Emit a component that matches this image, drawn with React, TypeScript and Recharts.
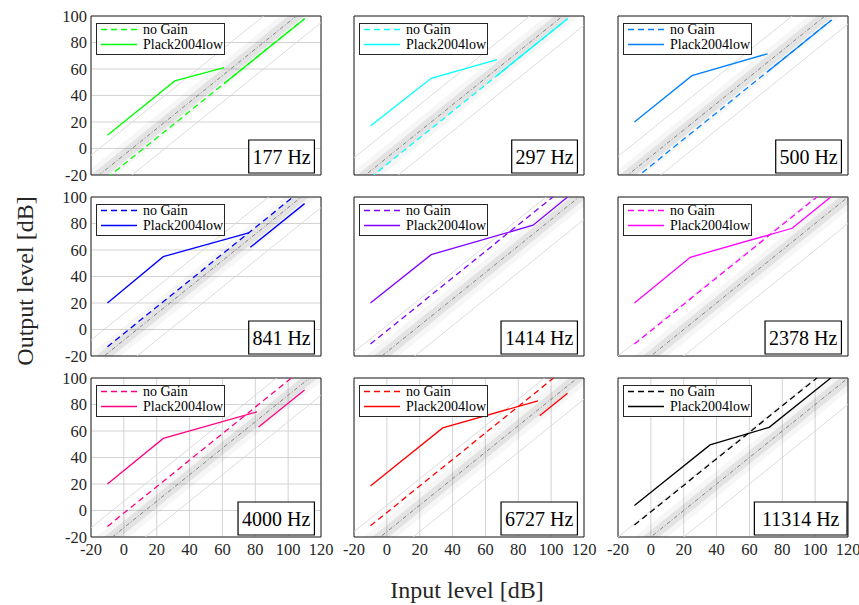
import React from 'react';
import {
  ComposedChart,
  Line,
  Area,
  XAxis,
  YAxis,
  CartesianGrid,
  ReferenceArea,
  Legend,
  Label,
} from 'recharts';

const FONT = '"Liberation Serif", "Times New Roman", serif';

// ---------- data ----------
const freqLabels = ['177 Hz', '297 Hz', '500 Hz', '841 Hz', '1414 Hz', '2378 Hz', '4000 Hz', '6727 Hz', '11314 Hz'];
const lineColors = ['#00ff00', '#00ffff', '#0080ff', '#0000ff', '#8000ff', '#ff00ff', '#ff0080', '#ff0000', '#000000'];
const xTicks = [-20, 0, 20, 40, 60, 80, 100, 120];
const yTicks = [-20, 0, 20, 40, 60, 80, 100];
const seriesNames = ['no Gain', 'Plack2004low'];

// offset (dB) of the grey reference line (output = input + offset)
const centerOffsets = [-5, -7, -6, -8, -17, -20, -13, -16, -20];

// "no Gain" line end points
const noGainX = [-10, 110];
const noGainY = [
  [-22, 98],
  [-22, 98],
  [-23, 97],
  [-13, 107],
  [-11, 109],
  [-11, 109],
  [-12, 108],
  [-11.5, 108.5],
  [-11, 109],
];

// "Plack2004low" curves (null = gap)
const plackX = [
  [-10, 31, 61, 61, 61, 110],
  [-10, 27, 67, 67, 67, 110],
  [-10, 25, 71, 71, 71, 110],
  [-10, 24, 76, 77, 77, 110],
  [-10, 27, 89, 110],
  [-10, 24, 86, 110],
  [-10, 24, 81, 82, 82, 110],
  [-10, 34, 92, 93, 93, 110],
  [-10, 36, 72, 110],
];
const plackY: (number | null)[][] = [
  [10, 51, 61, null, 49, 98],
  [17, 53, 67, null, 55, 98],
  [20, 55, 71.5, null, 58, 97],
  [20, 55, 73, null, 62, 95],
  [20, 56.5, 78.7, 100],
  [20, 54.5, 76.4, 100.5],
  [20, 54.4, 74.4, null, 63, 91],
  [18.5, 62.3, 82.8, null, 71.5, 88.5],
  [3.8, 49.5, 62.8, 100.5],
];

// frequency label boxes (data coords)
const labelLeft = [76, 76, 76, 76, 69.5, 69.5, 69.5, 69.5, 63];
const labelRight = [116, 116, 116, 116, 116, 116, 116, 116, 119.4];
const labelBottom = -18.5;
const labelTop = 6.4;

// ---------- layout ----------
const PLOT_LEFT = [91, 354, 618];
const PLOT_TOP = [16, 197, 378];
const PW = 230;
const PH = 159;
const YW = 40;
const MT = 10;
const MR = 22;
const XH = 30;

const LegendBox = (props: any) => {
  const all = (props.payload || []) as any[];
  const payload = seriesNames
    .map((n) => all.find((e: any) => e.value === n))
    .filter(Boolean) as any[];
  return (
    <div
      style={{
        border: '1px solid #262626',
        background: '#fff',
        padding: '0 1px 0 4px',
        height: 30,
        fontFamily: FONT,
        fontSize: 14,
        color: '#000',
        whiteSpace: 'nowrap',
        boxSizing: 'content-box',
      }}
    >
      <div style={{ transform: 'translateY(-1.5px)' }}>
        {payload.map((entry: any) => (
          <div
            key={String(entry.value)}
            style={{ display: 'flex', alignItems: 'center', height: 14.5, lineHeight: '14.5px' }}
          >
            <svg width={36} height={10} style={{ marginRight: 6, flex: 'none' }}>
              <line
                x1={0}
                x2={36}
                y1={5}
                y2={5}
                stroke={entry.color}
                strokeWidth={1.3}
                strokeDasharray={entry.value === 'no Gain' ? '6 4' : undefined}
              />
            </svg>
            <span>{entry.value}</span>
          </div>
        ))}
      </div>
    </div>
  );
};

function Panel({ i }: { i: number }) {
  const col = i % 3;
  const row = Math.floor(i / 3);
  const showY = col === 0;
  const showX = row === 2;
  const c0 = centerOffsets[i];
  const color = lineColors[i];

  const guide = [-20, 120].map((x) => ({
    x,
    center: x + c0,
    up20: x + c0 + 20,
    dn20: x + c0 - 20,
    light: [x + c0 - 10, x + c0 + 10],
    dark: [x + c0 - 5, x + c0 + 5],
  }));
  const noGain = noGainX.map((x, k) => ({ x, y: noGainY[i][k] }));
  const plack = plackX[i].map((x, k) => ({ x, y: plackY[i][k] }));

  const tickStyle = { fill: '#262626', fontSize: 16.5, fontFamily: FONT };

  return (
    <div style={{ position: 'absolute', left: PLOT_LEFT[col] - YW, top: PLOT_TOP[row] - MT }}>
      <ComposedChart
        width={PW + YW + MR}
        height={PH + MT + XH}
        data={guide}
        margin={{ top: MT, right: MR, left: 0, bottom: 0 }}
      >
        <CartesianGrid stroke="#d3d3d3" strokeWidth={1} />
        <XAxis
          type="number"
          dataKey="x"
          domain={[-20, 120]}
          ticks={xTicks}
          allowDataOverflow
          interval={0}
          tick={showX ? tickStyle : false}
          tickLine={false}
          axisLine={false}
          height={XH}
          tickSize={4}
          tickMargin={2}
        />
        <YAxis
          type="number"
          domain={[-20, 100]}
          ticks={yTicks}
          allowDataOverflow
          interval={0}
          tick={showY ? tickStyle : false}
          tickLine={false}
          axisLine={false}
          width={YW}
          tickSize={2}
          tickMargin={2}
        />
        <Area
          dataKey="light"
          name="band10"
          stroke="none"
          fill="#000"
          fillOpacity={0.035}
          isAnimationActive={false}
          legendType="none"
          activeDot={false}
        />
        <Area
          dataKey="dark"
          name="band5"
          stroke="none"
          fill="#000"
          fillOpacity={0.075}
          isAnimationActive={false}
          legendType="none"
          activeDot={false}
        />
        <Line dataKey="up20" stroke="#d8d8d8" strokeWidth={0.9} dot={false} isAnimationActive={false} legendType="none" />
        <Line dataKey="dn20" stroke="#d8d8d8" strokeWidth={0.9} dot={false} isAnimationActive={false} legendType="none" />
        <Line
          dataKey="center"
          stroke="#7a7a7a"
          strokeWidth={0.9}
          strokeDasharray="4 2 1 2"
          dot={false}
          isAnimationActive={false}
          legendType="none"
        />
        <Line
          data={noGain}
          dataKey="y"
          name={seriesNames[0]}
          stroke={color}
          strokeWidth={1.3}
          strokeDasharray="6 4"
          dot={false}
          isAnimationActive={false}
        />
        <Line
          data={plack}
          dataKey="y"
          name={seriesNames[1]}
          stroke={color}
          strokeWidth={1.3}
          dot={false}
          isAnimationActive={false}
        />
        <ReferenceArea
          x1={-20}
          x2={120}
          y1={-20}
          y2={100}
          fill="none"
          stroke="#262626"
          strokeWidth={1}
          ifOverflow="visible"
        />
        <ReferenceArea
          x1={labelLeft[i]}
          x2={labelRight[i]}
          y1={labelBottom}
          y2={labelTop}
          fill="#ffffff"
          fillOpacity={1}
          stroke="#000"
          strokeWidth={1.2}
          ifOverflow="visible"
        >
          <Label value={freqLabels[i]} position="center" fontSize={20} fontFamily={FONT} fill="#000" />
        </ReferenceArea>
        <Legend
          layout="vertical"
          align="center"
          verticalAlign="middle"
          wrapperStyle={{ left: YW + 5, top: MT + 7, width: 'auto', height: 'auto' }}
          content={LegendBox}
        />
      </ComposedChart>
    </div>
  );
}

export default function App() {
  return (
    <div style={{ position: 'absolute', left: 0, top: 0, width: 859, height: 605, background: '#fff' }}>
      {freqLabels.map((_, i) => (
        <Panel key={i} i={i} />
      ))}
      <div
        style={{
          position: 'absolute',
          left: 25,
          top: 281,
          transform: 'translate(-50%, -50%) rotate(-90deg)',
          fontFamily: FONT,
          fontSize: 24,
          color: '#262626',
          whiteSpace: 'nowrap',
        }}
      >
        Output level [dB]
      </div>
      <div
        style={{
          position: 'absolute',
          left: 467,
          top: 590,
          transform: 'translate(-50%, -50%)',
          fontFamily: FONT,
          fontSize: 24,
          color: '#262626',
          whiteSpace: 'nowrap',
        }}
      >
        Input level [dB]
      </div>
    </div>
  );
}
